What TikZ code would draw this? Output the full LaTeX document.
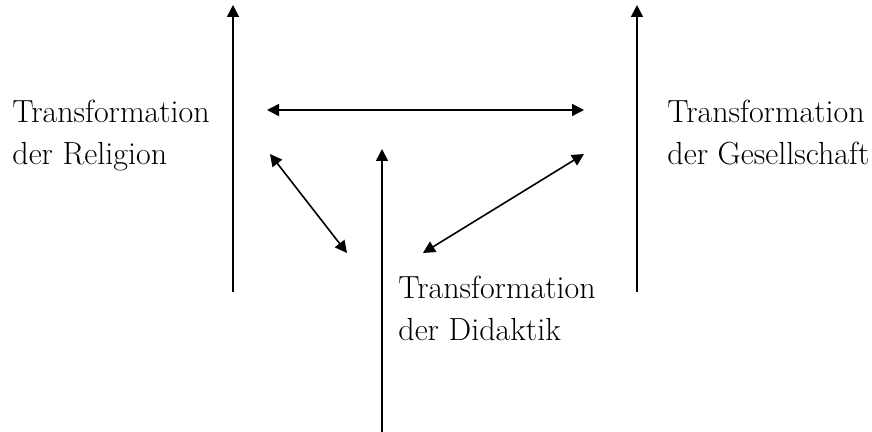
\documentclass[tikz,border=0pt]{standalone}
\usetikzlibrary{arrows.meta}
\begin{document}
\begin{tikzpicture}[x=0.5pt,y=-0.5pt,
  lbl/.style={anchor=north west,inner sep=0pt,align=left,font=\fontsize{16pt}{20.75pt}\selectfont},
  arr/.style={line width=0.8pt,-{Triangle[length=6pt,width=6pt]}},
  darr/.style={line width=0.8pt,{Triangle[length=6pt,width=6pt]}-{Triangle[length=6pt,width=6pt]}}]
\useasboundingbox (0,0) rectangle (872,432);
% labels
\node[lbl] (rel) at (12,100) {Transformation\\der Religion};
\node[lbl] (ges) at (667,100) {Transformation\\der Gesellschaft};
\node[lbl] (did) at (398,276) {Transformation\\der Didaktik};
% endpoints
\coordinate (lb) at (233,292); \coordinate (lt) at (233,5);
\coordinate (rb) at (637,292); \coordinate (rt) at (637,5);
\coordinate (mb) at (382,432); \coordinate (mt) at (382,149);
\coordinate (hl) at (267,110); \coordinate (hr) at (584,110);
\coordinate (dl1) at (270,154); \coordinate (dl2) at (347,253);
\coordinate (dr1) at (584,154); \coordinate (dr2) at (423,253);
% arrows
\draw[arr] (lb) -- (lt);
\draw[arr] (rb) -- (rt);
\draw[arr] (mb) -- (mt);
\draw[darr] (hl) -- (hr);
\draw[darr] (dl1) -- (dl2);
\draw[darr] (dr1) -- (dr2);
\end{tikzpicture}
\end{document}
